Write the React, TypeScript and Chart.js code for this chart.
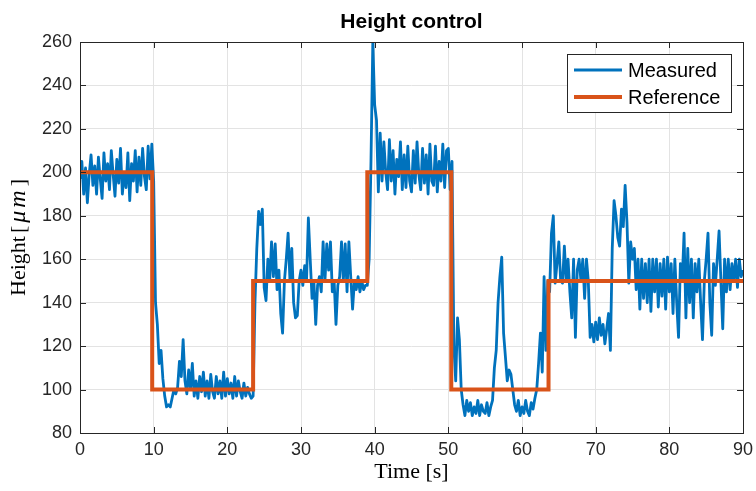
import { useEffect, useRef } from 'react';
import { Chart, registerables } from 'chart.js';

Chart.register(...registerables);

// ---- data ----
const chartTitle = 'Height control';
const xAxisTitle = 'Time';
const xAxisUnit = 's';
const yAxisTitle = 'Height';
const yAxisUnit = ['μ', 'm'];
const seriesNames = ['Measured', 'Reference'];

const xTicks = [0, 10, 20, 30, 40, 50, 60, 70, 80, 90];
const yTicks = [80, 100, 120, 140, 160, 180, 200, 220, 240, 260];

// measured height sampled every 0.25 s from t = 0 to t = 90
const sampleStep = 0.25;
const measured = [
  197, 205, 190, 202,
  186, 199, 208, 194,
  203, 190, 207, 197,
  188, 209, 196, 204,
  192, 210, 199, 189,
  206, 195, 211, 190,
  200, 193, 209, 187,
  204, 196, 210, 191,
  207, 194, 211, 198,
  192, 212, 197, 213,
  196, 140, 130, 112,
  118, 105, 97, 92,
  93, 92, 96, 100,
  98, 101, 113, 106,
  123, 104, 98, 109,
  100, 112, 97, 104,
  96, 106, 99, 108,
  97, 104, 96, 107,
  99, 96, 106, 98,
  104, 96, 108, 97,
  105, 98, 103, 96,
  106, 97, 104, 99,
  96, 103, 97, 101,
  98, 96, 97, 140,
  165, 182, 176, 183,
  147, 141, 160, 150,
  168, 152, 167, 146,
  155, 135, 126, 150,
  160, 172, 150, 165,
  140, 133, 134, 150,
  155, 148, 157, 150,
  179, 160, 142, 150,
  130, 148, 152, 145,
  168, 150, 167, 155,
  168, 145, 150, 130,
  148, 152, 168, 150,
  167, 145, 168, 152,
  137, 150, 146, 152,
  145, 150, 146, 148,
  148, 160, 205, 260,
  231, 224, 191, 218,
  196, 214, 200, 192,
  215, 196, 210, 190,
  206, 198, 214, 192,
  208, 193, 212, 196,
  191, 210, 195, 214,
  199, 192, 211, 195,
  208, 190, 213, 196,
  194, 212, 191, 205,
  196, 213, 193, 210,
  211, 192, 205, 120,
  104, 133, 123, 100,
  93, 88, 95, 90,
  94, 88, 92, 89,
  95, 88, 93, 90,
  89, 94, 88, 92,
  95, 110, 118, 140,
  152, 161, 126, 115,
  104, 109, 107, 100,
  93, 90, 95, 88,
  92, 89, 95, 90,
  88, 94, 91, 96,
  100, 112, 126, 108,
  152, 118, 150, 145,
  172, 180, 149, 158,
  168, 150, 149, 166,
  150, 160, 145, 133,
  160, 124, 155, 160,
  150, 160, 142, 160,
  150, 124, 130, 122,
  131, 123, 133, 125,
  130, 121, 128, 135,
  118, 165, 187, 180,
  170, 166, 183, 175,
  194, 177, 149, 168,
  160, 165, 146, 160,
  137, 160, 142, 158,
  140, 160, 136, 160,
  145, 160, 138, 158,
  143, 160, 137, 161,
  145, 158, 135, 160,
  140, 124, 158, 150,
  172, 133, 165, 140,
  160, 133, 158, 145,
  160, 140, 123, 150,
  160, 172, 140, 125,
  158, 148, 160, 173,
  150, 128, 160, 145,
  160, 146, 158, 150,
  160, 147, 160, 152,
  155,
];

// reference set-point: value held from each time until the next
const refTimes = [0, 9.8, 23.5, 39, 50.4, 63.6, 90];
const refValues = [200, 100, 150, 200, 100, 150, 150];

const measuredColor = '#0072BD';
const referenceColor = '#D95319';
const axisColor = '#262626';
const gridColor = '#e3e3e3';

const W = 756;
const H = 491;

const decorPlugin = {
  id: 'decor',
  afterDraw(chart: any) {
    const { ctx, chartArea } = chart;
    const { left, right, top, bottom } = chartArea;
    const xs = chart.scales.x;
    const ys = chart.scales.y;
    ctx.save();

    // inward ticks
    ctx.strokeStyle = axisColor;
    ctx.lineWidth = 1;
    const tl = 6;
    ctx.beginPath();
    xTicks.forEach((t) => {
      const px = Math.round(xs.getPixelForValue(t)) + 0.5;
      ctx.moveTo(px, bottom);
      ctx.lineTo(px, bottom - tl);
      ctx.moveTo(px, top);
      ctx.lineTo(px, top + tl);
    });
    yTicks.forEach((t) => {
      const py = Math.round(ys.getPixelForValue(t)) + 0.5;
      ctx.moveTo(left, py);
      ctx.lineTo(left + tl, py);
      ctx.moveTo(right, py);
      ctx.lineTo(right - tl, py);
    });
    ctx.stroke();

    // box
    ctx.strokeRect(Math.round(left) + 0.5, Math.round(top) + 0.5, Math.round(right - left), Math.round(bottom - top));

    // title
    ctx.fillStyle = '#000';
    ctx.font = 'bold 21px "Liberation Sans", Arial, sans-serif';
    ctx.textAlign = 'center';
    ctx.textBaseline = 'middle';
    ctx.fillText(chartTitle, (left + right) / 2, top - 20);

    // axis titles (LaTeX-like)
    const drawLabel = (parts: { t: string; it?: boolean; gap?: number; size?: number }[], cx: number, cy: number, rot: boolean) => {
      const fnt = (p: any) =>
        `${p.it ? 'italic ' : ''}${p.size || 22}px "Liberation Serif", "Times New Roman", serif`;
      let total = 0;
      const widths = parts.map((p) => {
        ctx.font = fnt(p);
        const w = ctx.measureText(p.t).width + (p.gap || 0);
        total += w;
        return w;
      });
      ctx.save();
      ctx.translate(cx, cy);
      if (rot) ctx.rotate(-Math.PI / 2);
      ctx.textAlign = 'left';
      ctx.textBaseline = 'middle';
      ctx.fillStyle = '#000';
      let x = -total / 2;
      parts.forEach((p, i) => {
        ctx.font = fnt(p);
        ctx.fillText(p.t, x, 0);
        x += widths[i];
      });
      ctx.restore();
    };
    drawLabel([{ t: xAxisTitle + ' [' }, { t: xAxisUnit }, { t: ']' }], (left + right) / 2, bottom + 39, false);
    drawLabel(
      [
        { t: yAxisTitle, gap: 3 },
        { t: '[', gap: 3 },
        { t: yAxisUnit[0], it: true, gap: 3, size: 24 },
        { t: yAxisUnit[1], it: true, gap: 4, size: 24 },
        { t: ']' },
      ],
      19,
      (top + bottom) / 2,
      true
    );

    // legend
    const lw = 164;
    const lh = 58;
    const lx = right - 12 - lw;
    const ly = top + 12;
    ctx.fillStyle = '#fff';
    ctx.fillRect(lx, ly, lw, lh);
    ctx.strokeStyle = axisColor;
    ctx.lineWidth = 1;
    ctx.strokeRect(Math.round(lx) + 0.5, Math.round(ly) + 0.5, lw, lh);
    const items = [
      { name: seriesNames[0], color: measuredColor, width: 2.8 },
      { name: seriesNames[1], color: referenceColor, width: 4 },
    ];
    items.forEach((it, i) => {
      const y = ly + 16 + i * 27;
      ctx.strokeStyle = it.color;
      ctx.lineWidth = it.width;
      ctx.beginPath();
      ctx.moveTo(lx + 7, y);
      ctx.lineTo(lx + 55, y);
      ctx.stroke();
      ctx.fillStyle = '#000';
      ctx.font = '20px "Liberation Sans", Arial, sans-serif';
      ctx.textAlign = 'left';
      ctx.textBaseline = 'middle';
      ctx.fillText(it.name, lx + 61, y + 1);
    });

    ctx.restore();
  },
};

export default function App() {
  const ref = useRef<HTMLCanvasElement | null>(null);

  useEffect(() => {
    if (!ref.current) return;
    const measuredPts = measured.map((v, i) => ({ x: i * sampleStep, y: v }));
    const refPts = refTimes.map((t, i) => ({ x: t, y: refValues[i] }));
    const chart = new Chart(ref.current, {
      type: 'line',
      data: {
        datasets: [
          {
            label: seriesNames[1],
            data: refPts,
            borderColor: referenceColor,
            borderWidth: 4,
            stepped: 'before' as any,
            pointRadius: 0,
            fill: false,
            order: 0,
            borderJoinStyle: 'miter',
          },
          {
            label: seriesNames[0],
            data: measuredPts,
            borderColor: measuredColor,
            borderWidth: 2.8,
            pointRadius: 0,
            tension: 0,
            fill: false,
            order: 1,
            borderJoinStyle: 'round',
          },
        ],
      },
      options: {
        responsive: false,
        animation: false,
        layout: { padding: { left: 0, right: 13, top: 42, bottom: 0 } },
        plugins: {
          legend: { display: false },
          title: { display: false },
          tooltip: { enabled: false },
        },
        scales: {
          x: {
            type: 'linear',
            min: 0,
            max: 90,
            afterBuildTicks: (s: any) => {
              s.ticks = xTicks.map((v) => ({ value: v }));
            },
            afterFit: (s: any) => {
              s.height = 58;
              s.paddingRight = 0;
              s.paddingLeft = 0;
            },
            ticks: {
              color: axisColor,
              font: { family: '"Liberation Sans", Arial, sans-serif', size: 18 },
              padding: 6,
              maxRotation: 0,
            },
            grid: { color: gridColor, drawTicks: false },
            border: { display: false },
          },
          y: {
            type: 'linear',
            min: 80,
            max: 260,
            afterBuildTicks: (s: any) => {
              s.ticks = yTicks.map((v) => ({ value: v }));
            },
            afterFit: (s: any) => {
              s.width = 80;
              s.paddingTop = 0;
              s.paddingBottom = 0;
            },
            ticks: {
              color: axisColor,
              font: { family: '"Liberation Sans", Arial, sans-serif', size: 18 },
              padding: 8,
            },
            grid: { color: gridColor, drawTicks: false },
            border: { display: false },
          },
        },
      },
      plugins: [decorPlugin],
    } as any);
    return () => chart.destroy();
  }, []);

  return (
    <div style={{ position: 'fixed', left: 0, top: 0, width: W, height: H, background: '#fff' }}>
      <canvas ref={ref} width={W} height={H} style={{ width: W, height: H, display: 'block' }} />
    </div>
  );
}
